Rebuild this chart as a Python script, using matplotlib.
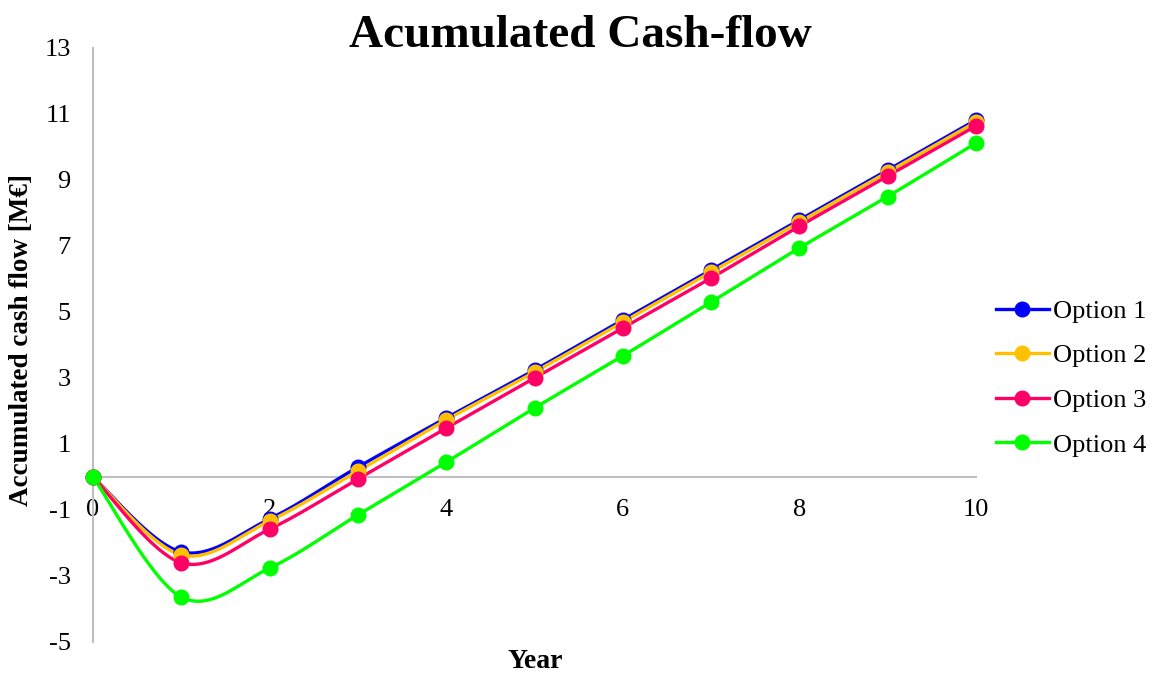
import numpy as np
import matplotlib
matplotlib.use("Agg")
import matplotlib.pyplot as plt

plt.rcParams['font.family'] = ['Liberation Serif', 'DejaVu Serif']
plt.rcParams['axes.unicode_minus'] = False

years = [0, 1, 2, 3, 4, 5, 6, 7, 8, 9, 10]
option1 = [0.0, -2.27, -1.27, 0.30, 1.79, 3.24, 4.76, 6.27, 7.79, 9.30, 10.82]
option2 = [0.0, -2.36, -1.33, 0.18, 1.73, 3.18, 4.70, 6.21, 7.73, 9.24, 10.76]
option3 = [0.0, -2.60, -1.58, -0.06, 1.48, 3.00, 4.52, 6.03, 7.60, 9.12, 10.64]
option4 = [0.0, -3.64, -2.76, -1.15, 0.45, 2.09, 3.67, 5.30, 6.94, 8.50, 10.12]
series_names = ["Option 1", "Option 2", "Option 3", "Option 4"]
colors = ["#0000FF", "#FFC000", "#FF0066", "#00FF00"]


def smooth(x, y, n=40):
    """Cardinal (Catmull-Rom style) Bezier smoothing through every point."""
    p = np.column_stack([x, y]).astype(float)
    ext = np.vstack([p[0], p, p[-1]])
    out = []
    t = np.linspace(0, 1, n)[:, None]
    for i in range(len(p) - 1):
        p0, p1, p2, p3 = ext[i], ext[i + 1], ext[i + 2], ext[i + 3]
        c1 = p1 + (p2 - p0) / 6.0
        c2 = p2 - (p3 - p1) / 6.0
        seg = ((1 - t) ** 3) * p1 + 3 * ((1 - t) ** 2) * t * c1 \
            + 3 * (1 - t) * t ** 2 * c2 + t ** 3 * p2
        out.append(seg if i == 0 else seg[1:])
    s = np.vstack(out)
    return s[:, 0], s[:, 1]


W, H = 1162, 675
fig = plt.figure(figsize=(W / 100, H / 100), dpi=100)
ax = fig.add_axes([93 / W, 1 - 642 / H, (976 - 93) / W, (642 - 48) / H])

handles = []
for name, vals, c in zip(series_names, [option1, option2, option3, option4], colors):
    sx, sy = smooth(years, vals)
    ax.plot(sx, sy, color=c, lw=2.4, solid_capstyle='round', zorder=3, clip_on=False)
    ax.plot(years, vals, 'o', color=c, ms=10.5, zorder=4, clip_on=False)
    h, = ax.plot([], [], color=c, lw=2.4, marker='o', ms=10.5, label=name)
    handles.append(h)

ax.set_xlim(0, 10)
ax.set_ylim(-5, 13)
ax.set_yticks(np.arange(-5, 14, 2))
ax.set_xticks(np.arange(0, 11, 2))

gray = "#BFBFBF"
for side in ['top', 'right']:
    ax.spines[side].set_visible(False)
ax.spines['left'].set_color(gray)
ax.spines['left'].set_linewidth(1.5)
ax.spines['bottom'].set_position(('data', 0))
ax.spines['bottom'].set_color(gray)
ax.spines['bottom'].set_linewidth(1.5)
ax.tick_params(axis='both', length=0, labelsize=19)
ax.tick_params(axis='y', pad=16)
ax.tick_params(axis='x', pad=16)

fig.text(22 / W, 1 - 340 / H, "Accumulated cash flow [M€]", fontsize=19.5, fontweight='bold',
         rotation=90, ha='center', va='center')
fig.text(535 / W, 1 - 662 / H, "Year", fontsize=20, fontweight='bold',
         ha='center', va='center')
fig.text(580 / W, 1 - 36 / H, "Acumulated Cash-flow", fontsize=34, fontweight='bold',
         ha='center', va='center')

fig.legend(handles=handles, loc='center left', bbox_to_anchor=(996 / W, 1 - 378 / H),
           frameon=False, fontsize=19, handlelength=2.0, handletextpad=0.15,
           labelspacing=0.80, borderaxespad=0, borderpad=0)

fig.savefig("out.png", dpi=100)
